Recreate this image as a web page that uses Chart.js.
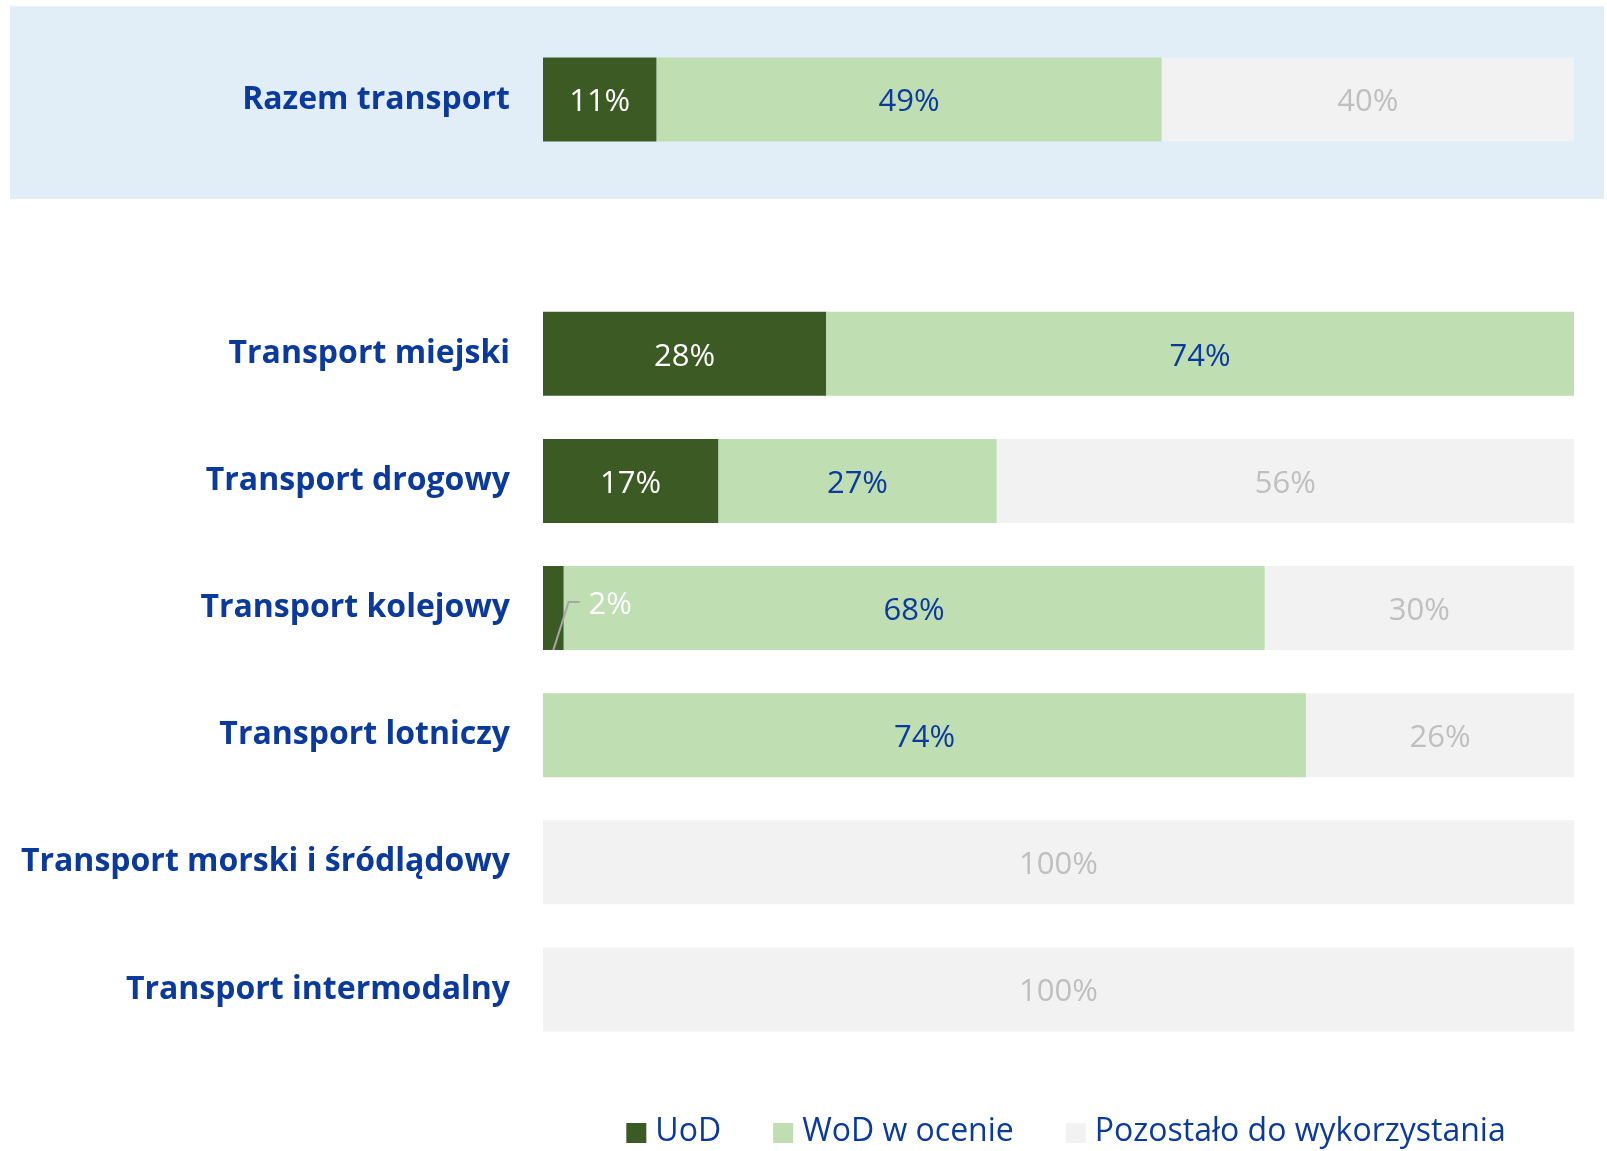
<!DOCTYPE html>
<html>
<head>
<meta charset="utf-8">
<script src="https://cdn.jsdelivr.net/npm/chart.js@4.4.0/dist/chart.umd.min.js"></script>
<style>
  html, body { margin: 0; padding: 0; background: #fff; }
</style>
</head>
<body>
<canvas id="chart" width="1607" height="1151"></canvas>
<script>
// data (percent); the empty label is the gap row under the total
const categories = ['Razem transport', '', 'Transport miejski', 'Transport drogowy', 'Transport kolejowy',
    'Transport lotniczy', 'Transport morski i śródlądowy', 'Transport intermodalny'];
const uod = [11, null, 28, 17, 2, 0, 0, 0];
const wod = [49, null, 74, 27, 68, 74, 0, 0];
const rest = [40, null, 0, 56, 30, 26, 100, 100];
const seriesNames = ['UoD', 'WoD w ocenie', 'Pozostało do wykorzystania'];

const NAVY = '#0b3a9e';
const colors = ['#3c5a23', '#bfdeb2', '#f2f2f2'];
const labelColors = ['#ffffff', NAVY, '#bfbfbf'];
const raw = [uod, wod, rest];

// 100% stacked: each row is scaled to its own total
function share(series) {
    return series.map(function (v, i) {
        if (v === null) return null;
        const total = uod[i] + wod[i] + rest[i];
        return v / total * 100;
    });
}

const bandPlugin = {
    id: 'band',
    beforeDraw: function (chart) {
        const ctx = chart.ctx;
        const y = chart.scales.y;
        const step = y.getPixelForValue(1) - y.getPixelForValue(0);
        const c = y.getPixelForValue(0);
        ctx.save();
        ctx.fillStyle = '#e1eef8';
        ctx.fillRect(10, c - step * 0.734, chart.width - 13, step * 1.516);
        ctx.restore();
    }
};

const valuePlugin = {
    id: 'values',
    afterDatasetsDraw: function (chart) {
        const ctx = chart.ctx;
        ctx.save();
        ctx.font = '31px "Open Sans"';
        ctx.textBaseline = 'middle';
        chart.data.datasets.forEach(function (ds, di) {
            const meta = chart.getDatasetMeta(di);
            meta.data.forEach(function (bar, i) {
                const v = raw[di][i];
                if (!v) return;
                const w = bar.x - bar.base;
                const h = bar.height;
                ctx.fillStyle = labelColors[di];
                if (w < 40) {
                    // small slice: label to the right with a leader line
                    ctx.strokeStyle = '#a6a6a6';
                    ctx.lineWidth = 2;
                    ctx.beginPath();
                    ctx.moveTo(bar.base + w / 2, bar.y + h / 2);
                    ctx.lineTo(bar.x + 5, bar.y - 6);
                    ctx.lineTo(bar.x + 16, bar.y - 6);
                    ctx.stroke();
                    ctx.textAlign = 'left';
                    ctx.fillStyle = '#ffffff';
                    ctx.fillText(v + '%', bar.x + 25, bar.y - 3);
                } else {
                    ctx.textAlign = 'center';
                    ctx.fillText(v + '%', (bar.x + bar.base) / 2, bar.y + 3);
                }
            });
        });
        ctx.restore();
    }
};

const legendPlugin = {
    id: 'legendBottom',
    afterDraw: function (chart) {
        const ctx = chart.ctx;
        ctx.save();
        ctx.font = '32px "Open Sans"';
        ctx.textBaseline = 'middle';
        ctx.textAlign = 'left';
        const widths = seriesNames.map(function (n) { return 29 + ctx.measureText(n).width; });
        const total = widths.reduce(function (a, b) { return a + b; }, 0) + 52 * (seriesNames.length - 1);
        let x = 1066 - total / 2;
        const y = 1132;
        seriesNames.forEach(function (n, i) {
            ctx.fillStyle = colors[i];
            ctx.fillRect(x, y - 9, 20, 20);
            ctx.fillStyle = NAVY;
            ctx.fillText(n, x + 29, y);
            x += widths[i] + 52;
        });
        ctx.restore();
    }
};

new Chart(document.getElementById('chart'), {
    type: 'bar',
    data: {
        labels: categories,
        datasets: [0, 1, 2].map(function (k) {
            return {
                label: seriesNames[k],
                data: share(raw[k]),
                backgroundColor: colors[k],
                borderWidth: 0,
                barPercentage: 0.661,
                categoryPercentage: 1
            };
        })
    },
    options: {
        indexAxis: 'y',
        responsive: false,
        animation: false,
        layout: {
            padding: { top: 36, right: 33, bottom: 98, left: 0 }
        },
        scales: {
            x: {
                stacked: true,
                min: 0,
                max: 100,
                display: false
            },
            y: {
                stacked: true,
                grid: { display: false },
                border: { display: false },
                afterFit: function (scale) {
                    scale.width = 543;
                    scale.paddingTop = 0;
                    scale.paddingBottom = 0;
                },
                ticks: {
                    color: NAVY,
                    padding: 25,
                    font: { family: 'Open Sans', size: 32, weight: 'bold' }
                }
            }
        },
        plugins: {
            legend: { display: false },
            tooltip: { enabled: false }
        }
    },
    plugins: [bandPlugin, valuePlugin, legendPlugin]
});
</script>
</body>
</html>
